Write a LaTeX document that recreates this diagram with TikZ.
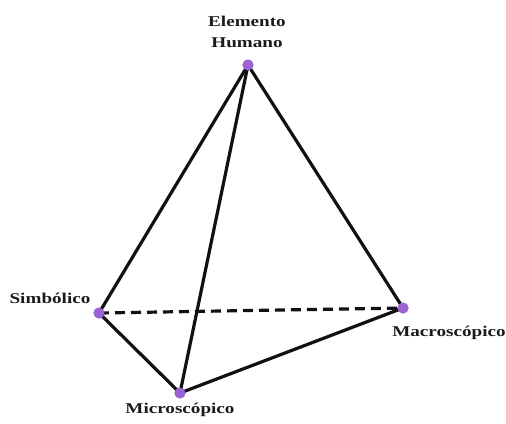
\documentclass[tikz,border=0pt]{standalone}
\usepackage{fontspec}
\usepackage{tikz}
\usetikzlibrary{positioning,calc}
\newfontfamily\lblfont[FakeStretch=1.28]{Liberation Serif}
\definecolor{vertlila}{HTML}{9B64D2}
\definecolor{aresta}{HTML}{111111}
\definecolor{rotulo}{HTML}{1A1A1A}

\begin{document}
\begin{tikzpicture}[x=1bp,y=-1bp,
    vert/.style={circle,fill=vertlila,inner sep=0pt,minimum size=11bp},
    lbl/.style={font=\lblfont\bfseries\fontsize{15}{21}\selectfont,text=rotulo,inner sep=0pt,align=center},
    edge/.style={aresta,line width=3.2bp,line cap=round,line join=round}]
  \useasboundingbox (0,0) rectangle (506,423);
  % vertices
  \node[vert] (hum) at (248,65) {};
  \node[vert] (sim) at (99,313) {};
  \node[vert] (mac) at (403,308) {};
  \node[vert] (mic) at (180,393) {};
  % edges
  \draw[edge,dash pattern=on 10bp off 6bp,line cap=butt] (sim.center) -- (mac.center);
  \foreach \a/\b in {hum/sim,hum/mac,hum/mic,sim/mic,mic/mac}
    \draw[edge] (\a.center) -- (\b.center);
  \foreach \v in {hum,sim,mac,mic} \node[vert] at (\v) {};
  % labels
  \node[lbl] (lhum) at (247,32) {Elemento\\Humano};
  \node[lbl] (lsim) at (50,298) {Simbólico};
  \node[lbl] (lmac) at (449,333) {Macroscópico};
  \node[lbl] (lmic) at (180,410) {Microscópico};
\end{tikzpicture}
\end{document}
